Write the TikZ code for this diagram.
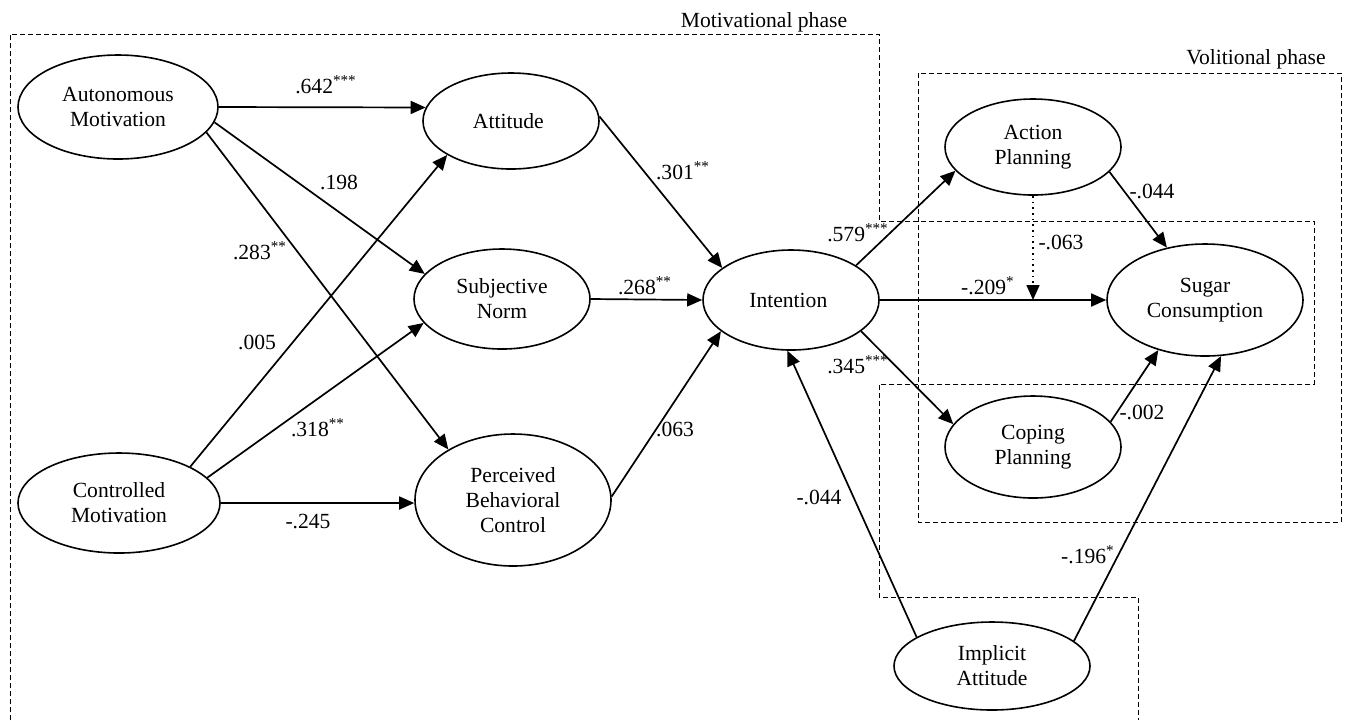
\documentclass[tikz,border=0pt]{standalone}
\usepackage{fontspec}
\setmainfont{Liberation Serif}
\usetikzlibrary{shapes.geometric,arrows.meta}

\begin{document}
\begin{tikzpicture} [
		x = 0.5pt,
		y = -0.5pt,
		font = \fontsize{10.8}{12.5}\selectfont,
		latent/.style = {
			ellipse,
			draw,
			line width = 0.8pt,
			inner sep = 0pt,
			align = center,
			minimum width = 88pt,
			minimum height = 49pt,
		},
		line/.style = {
			draw,
			line width = 0.85pt,
			-{Triangle[length = 7.5pt, width = 6.5pt]},
		},
		line-caption/.style = {
			anchor = base,
			inner sep = 0pt,
		},
		phase/.style = {
			draw,
			line width = 0.5pt,
			dash pattern = on 2.5pt off 1.5pt,
		},
		phase-caption/.style = {
			inner sep = 0pt,
		},
	]

	\useasboundingbox (0,0) rectangle (1348,720);

	% phase boxes
	\draw[phase] (10,720) -- (10,34) -- (879,34) -- (879,221) -- (1314,221)
		-- (1314,384) -- (879,384) -- (879,597) -- (1138,597) -- (1138,720);
	\draw[phase] (918,73) rectangle (1341,522);
	\node[phase-caption] (motivational) at (764,22) {Motivational phase};
	\node[phase-caption] (volitional) at (1256,59) {Volitional phase};

	% constructs
	\node[latent, minimum width = 100pt, minimum height = 52pt] (autonomous) at (118,107) {
		Autonomous\\Motivation
	};
	\node[latent, minimum width = 101pt, minimum height = 50pt] (controlled) at (119,503) {
		Controlled\\Motivation
	};
	\node[latent, minimum height = 48pt] (attitude) at (511,121) {
		Attitude
	};
	\node[latent, minimum height = 50pt] (norm) at (502,299) {
		Subjective\\Norm
	};
	\node[latent, minimum width = 98pt, minimum height = 66pt] (control) at (513,500) {
		Perceived\\Behavioral\\Control
	};
	\node[latent, minimum height = 50pt] (intention) at (791,300) {
		Intention
	};
	\node[latent, minimum height = 48pt] (actionPlan) at (1033,147) {
		Action\\Planning
	};
	\node[latent, minimum height = 51pt] (copingPlan) at (1033,447) {
		Coping\\Planning
	};
	\node[latent, minimum width = 98pt, minimum height = 56pt] (sugar) at (1205,300) {
		Sugar\\Consumption
	};
	\node[latent, minimum width = 98pt, minimum height = 44pt] (implicit) at (992,666) {
		Implicit\\Attitude
	};

	\coordinate (moderation) at (actionPlan.south |- intention.east);

	\begin{scope} [
		every path/.style = line
		]
		\path (autonomous.east) -- (attitude.171);
		\path (autonomous.-9) -- (norm.162);
		\path (autonomous.-16) -- (control.142);
		\path (controlled.27) -- (attitude.208);
		\path (controlled.16) -- (norm.197);
		\path (controlled.east) -- (controlled.east -| control.west);

		\path (attitude.3) -- (intention.155);
		\path (norm.east) -- (intention.west);
		\path (control.2) -- (intention.204);
		\path (implicit.159) -- (intention.266);

		\path (intention.28) -- (actionPlan.197);
		\path (intention.-24) -- (copingPlan.164);
		\path (intention.east) -- (sugar.west);
		\path (actionPlan.-18) -- (sugar.126);
		\path (copingPlan.18) -- (sugar.227);
		\path (implicit.17) -- (sugar.286);

		\path[dotted] (actionPlan.south) -- (moderation);
	\end{scope}

	% path coefficients
	\node[line-caption] (cAttAut) at (326,93) {.642\textsuperscript{***}};
	\node[line-caption] (cNormAut) at (339,189) {.198};
	\node[line-caption] (cPbcAut) at (260,259) {.283\textsuperscript{**}};
	\node[line-caption] (cAttCon) at (257,349) {.005};
	\node[line-caption] (cNormCon) at (318,436) {.318\textsuperscript{**}};
	\node[line-caption] (cPbcCon) at (308,528) {-.245};
	\node[line-caption] (cIntAtt) at (683,179) {.301\textsuperscript{**}};
	\node[line-caption] (cIntNorm) at (645,294) {.268\textsuperscript{**}};
	\node[line-caption] (cIntPbc) at (675,436) {.063};
	\node[line-caption] (cIntImp) at (819,504) {-.044};
	\node[line-caption] (cApInt) at (858,241) {.579\textsuperscript{***}};
	\node[line-caption] (cCpInt) at (858,373) {.345\textsuperscript{***}};
	\node[line-caption] (cSugInt) at (988,294) {-.209\textsuperscript{*}};
	\node[line-caption] (cModer) at (1061,249) {-.063};
	\node[line-caption] (cSugAp) at (1152,198) {-.044};
	\node[line-caption] (cSugCp) at (1142,419) {-.002};
	\node[line-caption] (cSugImp) at (1088,563) {-.196\textsuperscript{*}};
\end{tikzpicture}
\end{document}
